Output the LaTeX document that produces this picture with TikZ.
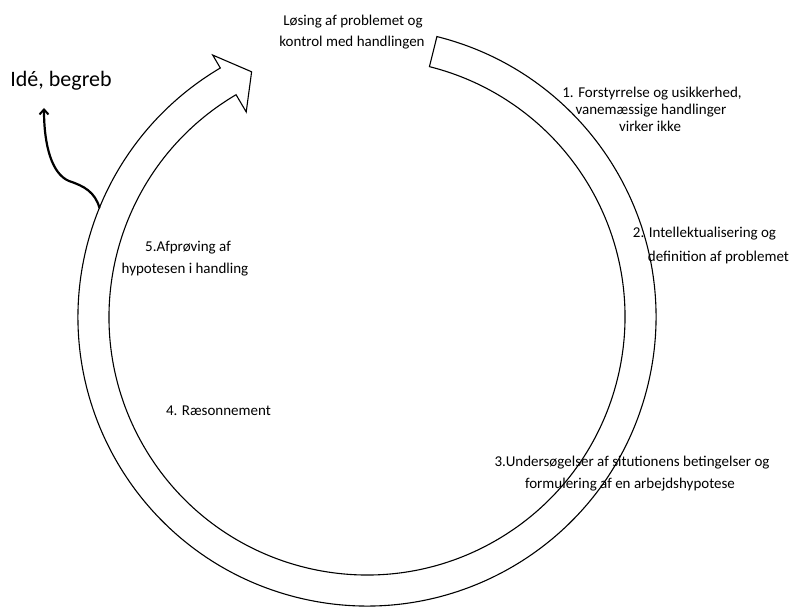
\documentclass[tikz,border=0pt]{standalone}
\usepackage{fontspec}
\setmainfont{Carlito}
\usetikzlibrary{arrows.meta}
\begin{document}
\begin{tikzpicture}[x=1pt,y=1pt,
  lbl/.style={anchor=base,inner sep=0pt,font=\fontsize{15}{18}\selectfont,text=black},
  ring/.style={draw=black,line width=1.1pt,fill=white,line join=miter},
  idea/.style={draw=black,line width=2.2pt,line cap=round,-{Straight Barb[length=5pt,width=9pt,line width=2pt]}}]
\useasboundingbox (0,0) rectangle (792,608);
\fill[white] (0,0) rectangle (792,608);

% circular arrow: open end at the top right, head at the top left
\begin{scope}[shift={(367,291)}]
  \draw[ring] (76:289) arc[start angle=76,end angle=-239.5,radius=289]
    -- (-239.5:304) -- (-244.8:271) -- (-239.5:238) -- (-239.5:258)
    arc[start angle=-239.5,end angle=76,radius=258] -- cycle;
  \coordinate (ringout) at (157.8:289);
\end{scope}

% labels
\node[lbl] (top1) at (353,582) {Løsing af problemet og};
\node[lbl] (top2) at (352,561) {kontrol med handlingen};

\node[lbl] (s1a) at (652,510) {1. Forstyrrelse og usikkerhed,};
\node[lbl] (s1b) at (651,493) {vanemæssige handlinger};
\node[lbl] (s1c) at (650,476) {virker ikke};

\node[lbl] (s2a) at (704.5,370) {2. Intellektualisering og};
\node[lbl] (s2b) at (718.5,346) {definition af problemet};

\node[lbl] (s3a) at (632,142) {3.Undersøgelser af situtionens betingelser og};
\node[lbl] (s3b) at (630,120) {formulering af en arbejdshypotese};

\node[lbl] (s4) at (218.5,192) {4. Ræsonnement};

\node[lbl] (s5a) at (188,356) {5.Afprøving af};
\node[lbl] (s5b) at (185,334) {hypotesen i handling};

\node[lbl,font=\fontsize{22}{26}\selectfont] (idea) at (61,521) {Idé, begreb};
\coordinate (ideatip) at (44,500);

% branch from the ring up to the idea
\draw[idea] (ringout) .. controls (95,416) and (84,422) .. (69,427)
  .. controls (52,434) and (44,462) .. (ideatip);
\end{tikzpicture}
\end{document}
